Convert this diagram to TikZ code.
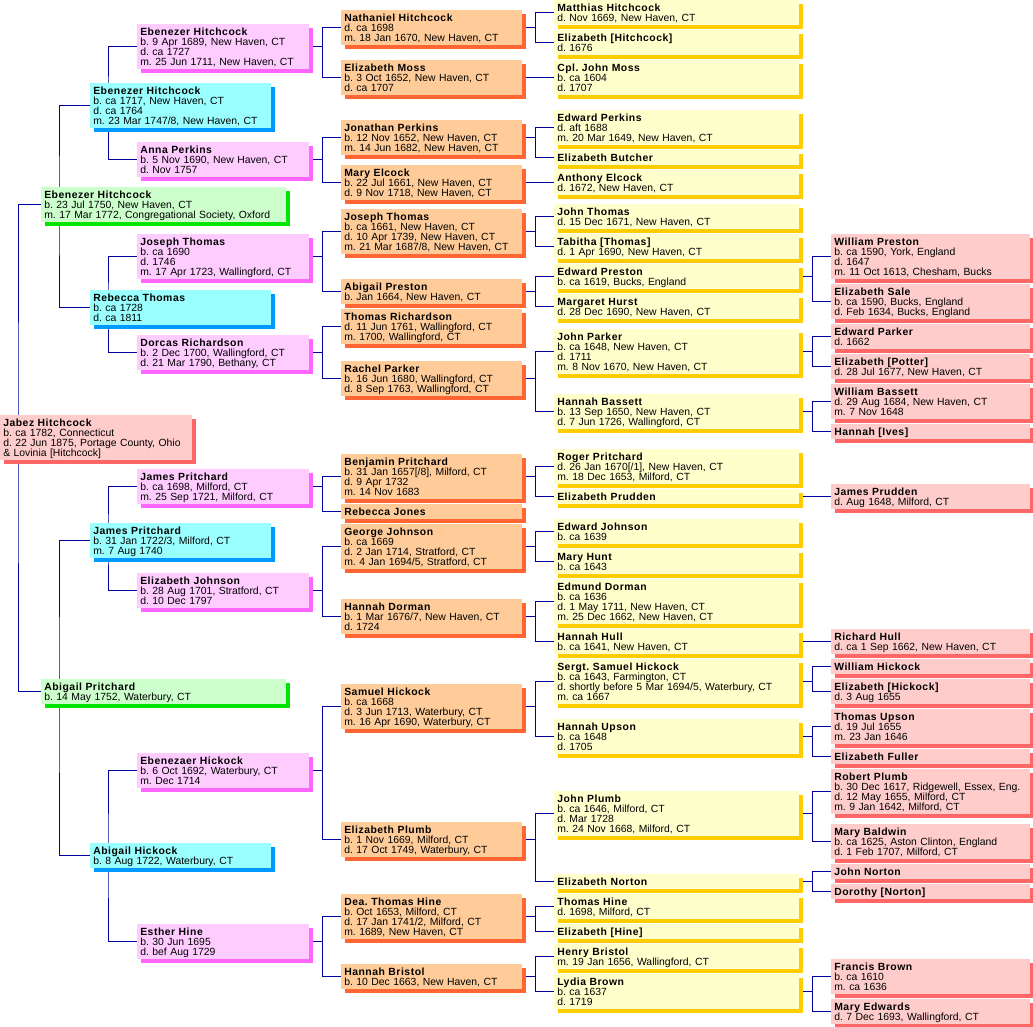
\documentclass[tikz,border=0pt]{standalone}
\usepackage{fontspec}
\setmainfont{Liberation Sans}[BoldFeatures={LetterSpace=5}]
\usetikzlibrary{calc,shadows,backgrounds}
\definecolor{pinkfill}{HTML}{FFCCCC}
\definecolor{pinkshade}{HTML}{FF6666}
\definecolor{greenfill}{HTML}{CCFFCC}
\definecolor{greenshade}{HTML}{00E600}
\definecolor{cyanfill}{HTML}{99FFFF}
\definecolor{cyanshade}{HTML}{0099FF}
\definecolor{mauvefill}{HTML}{FFCCFF}
\definecolor{mauveshade}{HTML}{FF66FF}
\definecolor{orangefill}{HTML}{FFCC99}
\definecolor{orangeshade}{HTML}{FF6633}
\definecolor{yellowfill}{HTML}{FFFFCC}
\definecolor{yellowshade}{HTML}{FFCC00}
\definecolor{linkblue}{HTML}{0000A0}
\newcommand{\pfont}{\fontsize{7.8}{7.5}\selectfont\frenchspacing\lineskiplimit=-10pt\relax}
\tikzset{
	person/.style={anchor=north west, align=left, inner xsep=2.25pt, inner ysep=0pt, font=\pfont,
		execute at begin node={\rule{0pt}{8.25pt}}, execute at end node={\rule[-3pt]{0pt}{3pt}}},
	shade/.style={general shadow={fill=#1, shadow xshift=2.6pt, shadow yshift=-2.6pt}},
	gen1/.style={person, fill=pinkfill, shade=pinkshade, text width=139.5pt},
	gen2/.style={person, fill=greenfill, shade=greenshade, text width=179.25pt},
	gen3/.style={person, fill=cyanfill, shade=cyanshade, text width=131.25pt},
	gen4/.style={person, fill=mauvefill, shade=mauveshade, text width=124.5pt},
	gen5/.style={person, fill=orangefill, shade=orangeshade, text width=131.25pt},
	gen6/.style={person, fill=yellowfill, shade=yellowshade, text width=179.25pt},
	gen7/.style={person, fill=pinkfill, shade=pinkshade, text width=144.75pt},
	link/.style={draw=linkblue, line width=0.75pt}
}
\begin{document}
\begin{tikzpicture}[x=0.75pt, y=-0.75pt, line join=round]
		\useasboundingbox (0,0) rectangle (1033,1027);
		\node[gen1] (p1) at (0,415) {\textbf{Jabez Hitchcock}\\b. ca 1782, Connecticut\\d. 22 Jun 1875, Portage County, Ohio\\\& Lovinia [Hitchcock]};
		\node[gen2] (p2) at (41,187) {\textbf{Ebenezer Hitchcock}\\b. 23 Jul 1750, New Haven, CT\\m. 17 Mar 1772, Congregational Society, Oxford};
		\node[gen2] (p3) at (41,679) {\textbf{Abigail Pritchard}\\b. 14 May 1752, Waterbury, CT};
		\node[gen3] (p4) at (90,83) {\textbf{Ebenezer Hitchcock}\\b. ca 1717, New Haven, CT\\d. ca 1764\\m. 23 Mar 1747/8, New Haven, CT};
		\node[gen3] (p5) at (90,290) {\textbf{Rebecca Thomas}\\b. ca 1728\\d. ca 1811};
		\node[gen3] (p6) at (90,523) {\textbf{James Pritchard}\\b. 31 Jan 1722/3, Milford, CT\\m. 7 Aug 1740};
		\node[gen3] (p7) at (90,843) {\textbf{Abigail Hickock}\\b. 8 Aug 1722, Waterbury, CT};
		\node[gen4] (p8) at (137,24) {\textbf{Ebenezer Hitchcock}\\b. 9 Apr 1689, New Haven, CT\\d. ca 1727\\m. 25 Jun 1711, New Haven, CT};
		\node[gen4] (p9) at (137,142) {\textbf{Anna Perkins}\\b. 5 Nov 1690, New Haven, CT\\d. Nov 1757};
		\node[gen4] (p10) at (137,234) {\textbf{Joseph Thomas}\\b. ca 1690\\d. 1746\\m. 17 Apr 1723, Wallingford, CT};
		\node[gen4] (p11) at (137,335) {\textbf{Dorcas Richardson}\\b. 2 Dec 1700, Wallingford, CT\\d. 21 Mar 1790, Bethany, CT};
		\node[gen4] (p12) at (137,469) {\textbf{James Pritchard}\\b. ca 1698, Milford, CT\\m. 25 Sep 1721, Milford, CT};
		\node[gen4] (p13) at (137,573) {\textbf{Elizabeth Johnson}\\b. 28 Aug 1701, Stratford, CT\\d. 10 Dec 1797};
		\node[gen4] (p14) at (137,753) {\textbf{Ebenezaer Hickock}\\b. 6 Oct 1692, Waterbury, CT\\m. Dec 1714};
		\node[gen4] (p15) at (137,924) {\textbf{Esther Hine}\\b. 30 Jun 1695\\d. bef Aug 1729};
		\node[gen5] (p16) at (341,10) {\textbf{Nathaniel Hitchcock}\\d. ca 1698\\m. 18 Jan 1670, New Haven, CT};
		\node[gen5] (p17) at (341,60) {\textbf{Elizabeth Moss}\\b. 3 Oct 1652, New Haven, CT\\d. ca 1707};
		\node[gen5] (p18) at (341,120) {\textbf{Jonathan Perkins}\\b. 12 Nov 1652, New Haven, CT\\m. 14 Jun 1682, New Haven, CT};
		\node[gen5] (p19) at (341,165) {\textbf{Mary Elcock}\\b. 22 Jul 1661, New Haven, CT\\d. 9 Nov 1718, New Haven, CT};
		\node[gen5] (p20) at (341,209) {\textbf{Joseph Thomas}\\b. ca 1661, New Haven, CT\\d. 10 Apr 1739, New Haven, CT\\m. 21 Mar 1687/8, New Haven, CT};
		\node[gen5] (p21) at (341,279) {\textbf{Abigail Preston}\\b. Jan 1664, New Haven, CT};
		\node[gen5] (p22) at (341,309) {\textbf{Thomas Richardson}\\d. 11 Jun 1761, Wallingford, CT\\m. 1700, Wallingford, CT};
		\node[gen5] (p23) at (341,361) {\textbf{Rachel Parker}\\b. 16 Jun 1680, Wallingford, CT\\d. 8 Sep 1763, Wallingford, CT};
		\node[gen5] (p24) at (341,454) {\textbf{Benjamin Pritchard}\\b. 31 Jan 1657[/8], Milford, CT\\d. 9 Apr 1732\\m. 14 Nov 1683};
		\node[gen5] (p25) at (341,504) {\textbf{Rebecca Jones}};
		\node[gen5] (p26) at (341,524) {\textbf{George Johnson}\\b. ca 1669\\d. 2 Jan 1714, Stratford, CT\\m. 4 Jan 1694/5, Stratford, CT};
		\node[gen5] (p27) at (341,599) {\textbf{Hannah Dorman}\\b. 1 Mar 1676/7, New Haven, CT\\d. 1724};
		\node[gen5] (p28) at (341,684) {\textbf{Samuel Hickock}\\b. ca 1668\\d. 3 Jun 1713, Waterbury, CT\\m. 16 Apr 1690, Waterbury, CT};
		\node[gen5] (p29) at (341,822) {\textbf{Elizabeth Plumb}\\b. 1 Nov 1669, Milford, CT\\d. 17 Oct 1749, Waterbury, CT};
		\node[gen5] (p30) at (341,894) {\textbf{Dea. Thomas Hine}\\b. Oct 1653, Milford, CT\\d. 17 Jan 1741/2, Milford, CT\\m. 1689, New Haven, CT};
		\node[gen5] (p31) at (341,964) {\textbf{Hannah Bristol}\\b. 10 Dec 1663, New Haven, CT};
		\node[gen6] (p32) at (554,0) {\textbf{Matthias Hitchcock}\\d. Nov 1669, New Haven, CT};
		\node[gen6] (p33) at (554,30) {\textbf{Elizabeth [Hitchcock]}\\d. 1676};
		\node[gen6] (p34) at (554,60) {\textbf{Cpl. John Moss}\\b. ca 1604\\d. 1707};
		\node[gen6] (p36) at (554,110) {\textbf{Edward Perkins}\\d. aft 1688\\m. 20 Mar 1649, New Haven, CT};
		\node[gen6] (p37) at (554,150) {\textbf{Elizabeth Butcher}};
		\node[gen6] (p38) at (554,170) {\textbf{Anthony Elcock}\\d. 1672, New Haven, CT};
		\node[gen6] (p40) at (554,204) {\textbf{John Thomas}\\d. 15 Dec 1671, New Haven, CT};
		\node[gen6] (p41) at (554,234) {\textbf{Tabitha [Thomas]}\\d. 1 Apr 1690, New Haven, CT};
		\node[gen6] (p42) at (554,264) {\textbf{Edward Preston}\\b. ca 1619, Bucks, England};
		\node[gen6] (p43) at (554,294) {\textbf{Margaret Hurst}\\d. 28 Dec 1690, New Haven, CT};
		\node[gen6] (p46) at (554,329) {\textbf{John Parker}\\b. ca 1648, New Haven, CT\\d. 1711\\m. 8 Nov 1670, New Haven, CT};
		\node[gen6] (p47) at (554,394) {\textbf{Hannah Bassett}\\b. 13 Sep 1650, New Haven, CT\\d. 7 Jun 1726, Wallingford, CT};
		\node[gen6] (p48) at (554,449) {\textbf{Roger Pritchard}\\d. 26 Jan 1670[/1], New Haven, CT\\m. 18 Dec 1653, Milford, CT};
		\node[gen6] (p49) at (554,489) {\textbf{Elizabeth Prudden}};
		\node[gen6] (p52) at (554,519) {\textbf{Edward Johnson}\\b. ca 1639};
		\node[gen6] (p53) at (554,549) {\textbf{Mary Hunt}\\b. ca 1643};
		\node[gen6] (p54) at (554,579) {\textbf{Edmund Dorman}\\b. ca 1636\\d. 1 May 1711, New Haven, CT\\m. 25 Dec 1662, New Haven, CT};
		\node[gen6] (p55) at (554,629) {\textbf{Hannah Hull}\\b. ca 1641, New Haven, CT};
		\node[gen6] (p56) at (554,659) {\textbf{Sergt. Samuel Hickock}\\b. ca 1643, Farmington, CT\\d. shortly before 5 Mar 1694/5, Waterbury, CT\\m. ca 1667};
		\node[gen6] (p57) at (554,719) {\textbf{Hannah Upson}\\b. ca 1648\\d. 1705};
		\node[gen6] (p58) at (554,791) {\textbf{John Plumb}\\b. ca 1646, Milford, CT\\d. Mar 1728\\m. 24 Nov 1668, Milford, CT};
		\node[gen6] (p59) at (554,874) {\textbf{Elizabeth Norton}};
		\node[gen6] (p60) at (554,894) {\textbf{Thomas Hine}\\d. 1698, Milford, CT};
		\node[gen6] (p61) at (554,924) {\textbf{Elizabeth [Hine]}};
		\node[gen6] (p62) at (554,944) {\textbf{Henry Bristol}\\m. 19 Jan 1656, Wallingford, CT};
		\node[gen6] (p63) at (554,974) {\textbf{Lydia Brown}\\b. ca 1637\\d. 1719};
		\node[gen7] (p84) at (831,234) {\textbf{William Preston}\\b. ca 1590, York, England\\d. 1647\\m. 11 Oct 1613, Chesham, Bucks};
		\node[gen7] (p85) at (831,284) {\textbf{Elizabeth Sale}\\b. ca 1590, Bucks, England\\d. Feb 1634, Bucks, England};
		\node[gen7] (p92) at (831,324) {\textbf{Edward Parker}\\d. 1662};
		\node[gen7] (p93) at (831,354) {\textbf{Elizabeth [Potter]}\\d. 28 Jul 1677, New Haven, CT};
		\node[gen7] (p94) at (831,384) {\textbf{William Bassett}\\d. 29 Aug 1684, New Haven, CT\\m. 7 Nov 1648};
		\node[gen7] (p95) at (831,424) {\textbf{Hannah [Ives]}};
		\node[gen7] (p98) at (831,484) {\textbf{James Prudden}\\d. Aug 1648, Milford, CT};
		\node[gen7] (p110) at (831,629) {\textbf{Richard Hull}\\d. ca 1 Sep 1662, New Haven, CT};
		\node[gen7] (p112) at (831,659) {\textbf{William Hickock}};
		\node[gen7] (p113) at (831,679) {\textbf{Elizabeth [Hickock]}\\d. 3 Aug 1655};
		\node[gen7] (p114) at (831,709) {\textbf{Thomas Upson}\\d. 19 Jul 1655\\m. 23 Jan 1646};
		\node[gen7] (p115) at (831,749) {\textbf{Elizabeth Fuller}};
		\node[gen7] (p116) at (831,769) {\textbf{Robert Plumb}\\b. 30 Dec 1617, Ridgewell, Essex, Eng.\\d. 12 May 1655, Milford, CT\\m. 9 Jan 1642, Milford, CT};
		\node[gen7] (p117) at (831,824) {\textbf{Mary Baldwin}\\b. ca 1625, Aston Clinton, England\\d. 1 Feb 1707, Milford, CT};
		\node[gen7] (p118) at (831,864) {\textbf{John Norton}};
		\node[gen7] (p119) at (831,884) {\textbf{Dorothy [Norton]}};
		\node[gen7] (p126) at (831,959) {\textbf{Francis Brown}\\b. ca 1610\\m. ca 1636};
		\node[gen7] (p127) at (831,999) {\textbf{Mary Edwards}\\d. 7 Dec 1693, Wallingford, CT};
		\begin{scope}[on background layer]
		\foreach \c in {1,...,7}{
			\pgfmathtruncatemacro\f{2*\c}
			\pgfmathtruncatemacro\m{2*\c+1}
			\draw[link] (p\f.west) -| ($(p\c.west)+(18,0)$) |- (p\m.west);}
		\foreach \c in {8,9,10,11,12,13,14,15,16,18,20,21,23,24,26,27,28,29,30,31,42,46,47,56,57,58,59,63}{
			\pgfmathtruncatemacro\f{2*\c}
			\pgfmathtruncatemacro\m{2*\c+1}
			\draw[link] (p\c.east) -- ++(13,0) coordinate (j) |- (p\f.west) (j) |- (p\m.west);}
		\foreach \c/\f in {17/34,19/38,49/98,55/110}
			\draw[link] (p\c.east) -- (p\f.west);
		\end{scope}
\end{tikzpicture}
\end{document}
